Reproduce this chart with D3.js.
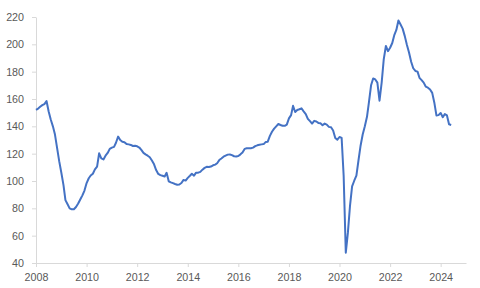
<!DOCTYPE html>
<html>
<head>
<meta charset="utf-8">
<script src="https://cdn.jsdelivr.net/npm/d3@7"></script>
<style>
  body { margin: 0; background: #fff; }
  .axis text { font-family: "Liberation Sans", Arial, sans-serif; font-size: 10.7px; fill: #595959; }
  .axis path, .axis line { stroke: #d9d9d9; }
</style>
</head>
<body>
<div id="vis"></div>
<script>
// monthly index, starting January 2008
var startYear = 2008;
var values = [
  152, 153, 154.3, 155.5, 156.3, 158.5, 151, 145, 140, 134, 124, 114.5,
  106, 97, 86, 83, 80, 79.3, 79.3, 81, 83.5, 86.5, 89.5, 93,
  98.5, 102, 104, 105.3, 108.5, 110.5, 120.3, 116.5, 115.8, 118.5, 120.5, 123.5,
  124.4, 125, 128, 132.5, 130, 128.7, 128.4, 127, 126.8, 126.4, 125.6, 125.8,
  125.4, 124.5, 122.8, 120.6, 119.5, 118.5, 117.4, 115, 112.2, 108, 105.2, 104.3,
  103.8, 103.3, 106, 99.8, 99, 98.4, 97.8, 97.3, 97.4, 98.5, 100.8, 100.3,
  102.3, 103.8, 105.3, 103.9, 106.1, 106.1, 106.7, 108.3, 109.6, 110.4, 110.2, 110.6,
  111.5, 112, 113, 115.3, 116.5, 117.8, 118.6, 119.3, 119.4, 118.9, 118.1, 118,
  118.3, 119.5, 120.8, 123.5, 124, 124, 124, 124.4, 125.5, 126.1, 126.5, 126.8,
  127, 128.6, 128.8, 133, 136, 138.3, 140, 141.7, 141, 140.4, 140.4, 141.3,
  145.8, 148.2, 155, 150.5, 152, 152.5, 153.2, 151, 149, 145.5, 143.8, 142,
  144, 143.5, 142.5, 142.2, 140.8, 142, 141.3, 139.6, 139.3, 137, 131.5, 130.2,
  132.2, 131.5, 104, 47.5, 62, 82, 96, 100.2, 104, 115, 126, 134,
  140, 147, 157.5, 170, 175, 174.3, 172, 158.8, 172, 189, 198.8, 195,
  197.5, 201, 206.5, 210.5, 217.5, 214.5, 211.5, 206, 199.5, 194, 187.3, 182.5,
  180.5, 180, 175.5, 173.8, 172, 169, 168.3, 167, 164.5, 157.5, 148, 148.2,
  149.8, 146.7, 149, 148, 141.5, 141
];
var yTicks = [40, 60, 80, 100, 120, 140, 160, 180, 200, 220];
var xTickYears = [2008, 2010, 2012, 2014, 2016, 2018, 2020, 2022, 2024];

const width = 480;
const height = 288;
const margin = {top: 17, right: 14, bottom: 25, left: 36};

const data = values.map((v, i) => ({date: new Date(startYear, i, 1), value: v}));

var svg = d3.select("div#vis").append("svg").attr("width", width).attr("height", height);

const x = d3.scaleTime()
  .domain([new Date(2008, 0, 1), new Date(2025, 0, 1)])
  .range([margin.left, width - margin.right]);

const y = d3.scaleLinear()
  .domain([40, 220])
  .range([height - margin.bottom, margin.top]);

svg.append("g")
  .attr("class", "axis")
  .attr("transform", `translate(0,${height - margin.bottom})`)
  .call(d3.axisBottom(x)
    .tickValues(xTickYears.map(yr => new Date(yr, 0, 1)))
    .tickFormat(d3.timeFormat("%Y"))
    .tickSize(4)
    .tickSizeOuter(0)
    .tickPadding(6));

svg.append("g")
  .attr("class", "axis")
  .attr("transform", `translate(${margin.left},0)`)
  .call(d3.axisLeft(y)
    .tickValues(yTicks)
    .tickSize(4)
    .tickSizeOuter(0)
    .tickPadding(8));

const line = d3.line()
  .x(d => x(d.date))
  .y(d => y(d.value));

svg.append("path")
  .datum(data)
  .attr("fill", "none")
  .attr("stroke", "#4472C4")
  .attr("stroke-width", 2)
  .attr("stroke-linejoin", "round")
  .attr("d", line);
</script>
</body>
</html>
